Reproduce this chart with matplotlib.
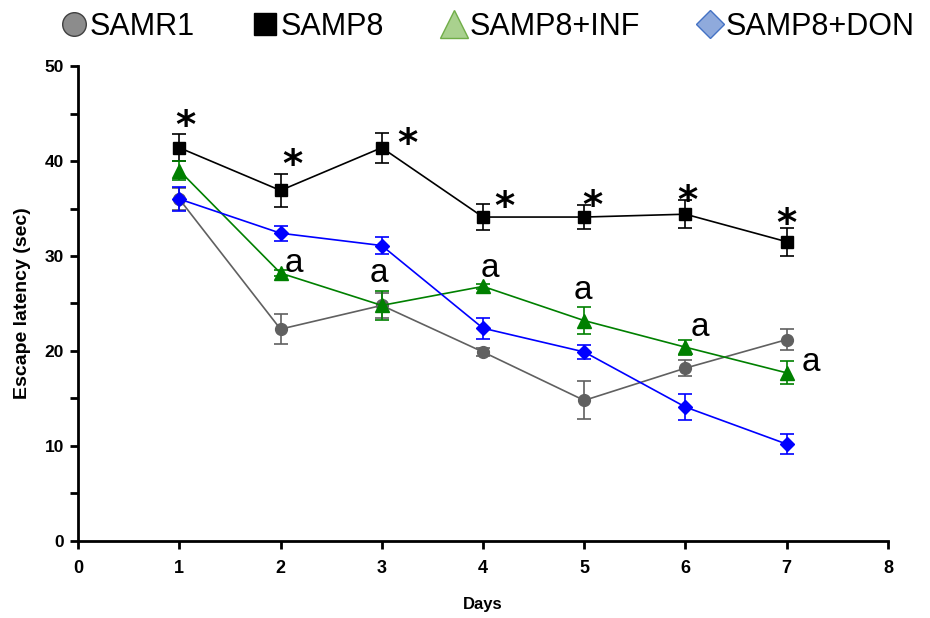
import matplotlib
matplotlib.use("Agg")
import matplotlib.pyplot as plt
from matplotlib.lines import Line2D
from matplotlib.textpath import TextPath
from matplotlib.font_manager import FontProperties

# Data: escape latency (sec) over training days, mean ± SEM
days = [1, 2, 3, 4, 5, 6, 7]

samr1 = [36.0, 22.3, 24.8, 19.9, 14.8, 18.2, 21.2]
samr1_err = [1.2, 1.6, 1.3, 0.4, 2.0, 0.85, 1.1]

samp8 = [41.4, 36.9, 41.4, 34.1, 34.1, 34.4, 31.5]
samp8_err = [1.4, 1.7, 1.6, 1.4, 1.3, 1.5, 1.5]

samp8_inf = [39.0, 28.2, 24.8, 26.8, 23.2, 20.4, 17.7]
samp8_inf_err = [1.0, 0.3, 1.5, 0.3, 1.4, 0.8, 1.2]

samp8_don = [36.0, 32.4, 31.1, 22.4, 19.9, 14.1, 10.2]
samp8_don_err = [1.3, 0.8, 0.9, 1.1, 0.7, 1.4, 1.05]

legend_labels = ["SAMR1", "SAMP8", "SAMP8+INF", "SAMP8+DON"]

# where each significance mark sits relative to its point (points, glyph centre)
star_offsets = [(4.3, 21.6), (8.6, 23.8), (18.7, 8.6), (15.8, 13.0),
                (5.8, 13.7), (1.4, 15.1), (0.0, 18.7)]
a_offsets = [None, (10.0, 7.2), (-1.4, 23.0), (5.8, 13.0),
             (-0.7, 21.6), (10.8, 14.4), (18.0, 7.9)]

star_font = FontProperties(family="DejaVu Sans", weight="bold", size=28)
a_font = FontProperties(family="Liberation Sans", size=24)


def glyph_centre(s, fp):
    ext = TextPath((0, 0), s, size=fp.get_size_in_points(), prop=fp).get_extents()
    return (ext.x0 + ext.x1) / 2, (ext.y0 + ext.y1) / 2


fig = plt.figure(figsize=(9.3, 6.18), dpi=100)
ax = fig.add_axes([0.0839, 0.1246, 0.8709, 0.7686])

series = [
    (samr1, samr1_err, "#606060", "o", 8.5),
    (samp8, samp8_err, "black", "s", 8.5),
    (samp8_inf, samp8_inf_err, "#008000", "^", 9.5),
    (samp8_don, samp8_don_err, "#0000ff", "D", 7.5),
]
for vals, errs, col, mk, ms in series:
    ax.errorbar(days, vals, yerr=errs, color=col, marker=mk, markersize=ms,
                linewidth=1.2, elinewidth=1.2, capsize=5, capthick=1.2,
                markeredgecolor=col, markerfacecolor=col)

# significance marks
scx, scy = glyph_centre("*", star_font)
for d, v, (ox, oy) in zip(days, samp8, star_offsets):
    ax.annotate("*", xy=(d, v), xytext=(ox - scx, oy - scy), textcoords="offset points",
                ha="left", va="baseline", fontproperties=star_font)
acx, acy = glyph_centre("a", a_font)
for d, v, off in zip(days, samp8_inf, a_offsets):
    if off is None:
        continue
    ox, oy = off
    ax.annotate("a", xy=(d, v), xytext=(ox - acx, oy - acy), textcoords="offset points",
                ha="left", va="baseline", fontproperties=a_font)

ax.set_xlim(0, 8)
ax.set_ylim(0, 50)
ax.set_xticks(range(0, 9))
ax.set_yticks(range(0, 51, 10))
ax.set_yticks(range(5, 50, 10), minor=True)
for s in ["top", "right"]:
    ax.spines[s].set_visible(False)
for s in ["left", "bottom"]:
    ax.spines[s].set_linewidth(2)
ax.tick_params(axis="both", which="both", direction="out", width=2, length=6)
ax.tick_params(axis="x", pad=8)
ax.tick_params(axis="y", pad=4)
for t in ax.get_xticklabels():
    t.set_fontfamily("Liberation Sans")
    t.set_fontweight("bold")
    t.set_fontsize(13)
for t in ax.get_yticklabels():
    t.set_fontfamily("Liberation Sans")
    t.set_fontweight("bold")
    t.set_fontsize(12.5)

ax.set_xlabel("Days", fontfamily="Liberation Sans", fontweight="bold", fontsize=12, labelpad=14)
ax.set_ylabel("Escape latency (sec)", fontfamily="Liberation Sans",
              fontweight="bold", fontsize=14, labelpad=10)

handles = [
    Line2D([], [], linestyle="none", marker="o", markersize=17,
           markerfacecolor="#8c8c8c", markeredgecolor="#404040"),
    Line2D([], [], linestyle="none", marker="s", markersize=15.5,
           markerfacecolor="black", markeredgecolor="black"),
    Line2D([], [], linestyle="none", marker="^", markersize=20,
           markerfacecolor="#a9d18e", markeredgecolor="#70ad47"),
    Line2D([], [], linestyle="none", marker="D", markersize=14,
           markerfacecolor="#8faadc", markeredgecolor="#4472c4"),
]
fig.legend(handles, legend_labels, loc="upper center", bbox_to_anchor=(0.525, 1.025),
           ncol=4, frameon=False, handlelength=0.8, handletextpad=0.1,
           columnspacing=1.9, prop={"family": "Liberation Sans", "size": 22})

fig.savefig("out.png", dpi=100)
